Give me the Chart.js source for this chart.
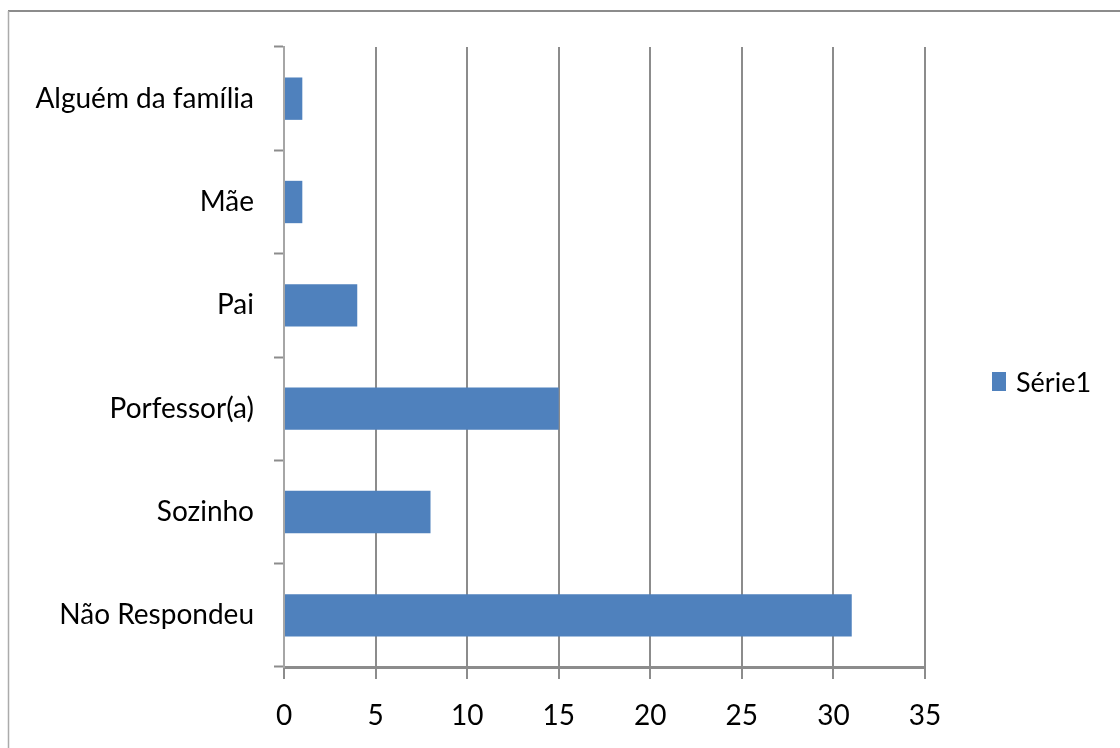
<!DOCTYPE html>
<html>
<head>
<meta charset="utf-8">
<script src="https://cdn.jsdelivr.net/npm/chart.js@4/dist/chart.umd.min.js"></script>
<style>
  html, body { margin: 0; padding: 0; background: #ffffff; }
  #wrap { position: relative; width: 1120px; height: 748px; }
</style>
</head>
<body>
<div id="wrap"><canvas id="c" width="1120" height="748"></canvas></div>
<script>
const categories = ["Alguém da família", "Mãe", "Pai", "Porfessor(a)", "Sozinho", "Não Respondeu"];
const seriesName = "Série1";
const seriesValues = [1, 1, 4, 15, 8, 31];
const xTickValues = [0, 5, 10, 15, 20, 25, 30, 35];

const FONT = "Lato, 'Liberation Sans', sans-serif";

const framePlugin = {
  id: 'frame',
  beforeDraw(chart) {
    const ctx = chart.ctx;
    ctx.save();
    ctx.fillStyle = '#ffffff';
    ctx.fillRect(0, 0, chart.width, chart.height);
    ctx.strokeStyle = '#8c8c8c';
    ctx.lineWidth = 2;
    ctx.beginPath();
    ctx.moveTo(8, 11);
    ctx.lineTo(chart.width, 11);
    ctx.stroke();
    ctx.strokeStyle = '#ababab';
    ctx.lineWidth = 1.5;
    ctx.beginPath();
    ctx.moveTo(8.5, 11);
    ctx.lineTo(8.5, chart.height);
    ctx.stroke();
    ctx.restore();
  }
};

const legendPlugin = {
  id: 'customLegend',
  afterDraw(chart) {
    const ctx = chart.ctx;
    const ds = chart.data.datasets[0];
    ctx.save();
    ctx.fillStyle = ds.backgroundColor;
    ctx.fillRect(992, 372, 14, 19);
    ctx.fillStyle = '#000000';
    ctx.font = "27px " + FONT;
    ctx.textBaseline = 'middle';
    ctx.textAlign = 'left';
    ctx.fillText(ds.label, 1016, 383);
    ctx.restore();
  }
};

new Chart(document.getElementById('c'), {
  type: 'bar',
  data: {
    labels: categories,
    datasets: [{
      label: seriesName,
      data: seriesValues,
      backgroundColor: '#4f81bd',
      borderWidth: 0,
      categoryPercentage: 1.0,
      barPercentage: 0.41
    }]
  },
  options: {
    indexAxis: 'y',
    responsive: false,
    animation: false,
    devicePixelRatio: 1,
    layout: { padding: { left: 0, top: 47, right: 195, bottom: 0 } },
    plugins: {
      legend: { display: false },
      tooltip: { enabled: false }
    },
    scales: {
      x: {
        type: 'linear',
        min: 0,
        max: 35,
        afterBuildTicks(scale) { scale.ticks = xTickValues.map(v => ({ value: v })); },
        afterFit(scale) { scale.height = 81; },
        grid: {
          color: '#8c8c8c',
          lineWidth: 2,
          drawTicks: true,
          tickLength: 12,
          tickColor: '#8c8c8c',
          tickWidth: 2
        },
        border: { display: true, color: '#8c8c8c', width: 3 },
        ticks: {
          color: '#000000',
          font: { family: FONT, size: 28 },
          padding: 20,
          maxRotation: 0
        }
      },
      y: {
        afterFit(scale) { scale.width = 284; },
        grid: {
          drawOnChartArea: false,
          drawTicks: true,
          tickLength: 10,
          tickColor: '#8c8c8c',
          tickWidth: 2,
          offset: true
        },
        border: { display: true, color: '#a6a6a6', width: 2 },
        ticks: {
          color: '#000000',
          font: { family: FONT, size: 28 },
          padding: 20
        }
      }
    }
  },
  plugins: [framePlugin, legendPlugin]
});
</script>
</body>
</html>
